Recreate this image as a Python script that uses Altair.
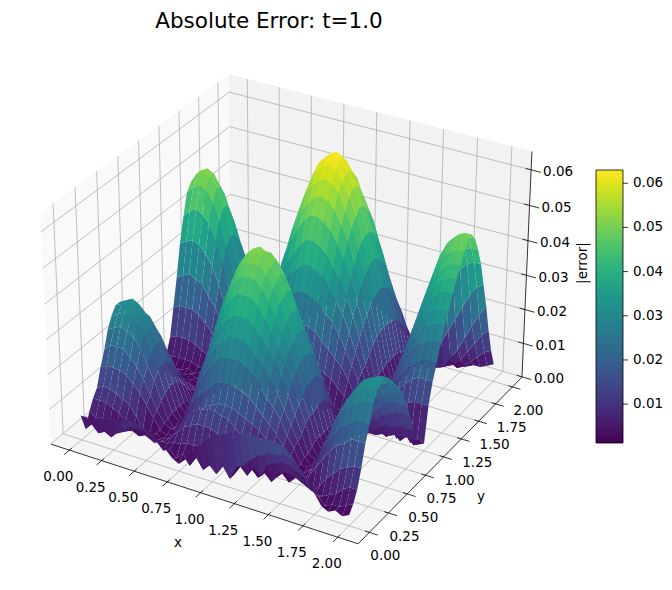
import numpy as np
import altair as alt

# |error| * 1000, rows are y = 0..2, columns are x = 0..2 (step 0.05)
Z_ROWS = [
[7,7,7,8,8,9,9,10,10,10,9,8,7,5,3,2,4,7,9,11,13,14,15,16,16,17,17,17,17,17,17,16,14,11,8,6,3,2,3,2,3],
[2,4,2,3,2,4,5,7,7,7,6,5,3,4,2,4,1,4,1,3,1,4,1,5,6,8,10,11,12,12,13,12,11,9,6,4,2,3,3,4,5],
[6,5,5,3,2,3,4,5,5,4,3,4,4,5,5,6,6,6,5,4,4,3,1,4,2,5,3,7,8,9,9,8,7,6,3,3,4,5,7,8,8],
[9,9,9,8,7,5,3,2,3,2,3,3,5,7,9,10,11,11,11,10,9,8,6,4,3,1,3,1,4,5,5,4,3,2,4,7,9,11,12,13,13],
[11,12,12,11,10,9,6,3,2,3,2,3,6,9,12,13,14,15,15,14,14,12,10,8,5,3,3,1,3,1,3,3,5,8,11,14,16,17,19,19,19],
[16,17,17,17,16,14,12,9,6,3,2,3,5,8,10,12,14,15,16,16,16,15,14,13,12,10,8,6,4,2,2,3,7,11,14,17,20,21,23,23,23],
[20,22,22,22,20,18,15,11,7,4,3,3,7,11,14,16,18,20,21,21,21,20,19,17,15,13,11,8,5,3,2,4,8,13,17,21,24,26,27,28,28],
[25,26,27,26,25,22,18,14,9,4,2,4,9,14,18,21,24,26,27,27,27,26,24,22,19,17,14,10,7,3,3,4,9,14,19,23,26,29,30,31,31],
[28,29,30,29,28,25,20,16,10,5,3,5,11,16,21,25,28,30,32,32,32,30,28,26,23,20,16,12,8,4,2,4,10,15,20,24,27,30,31,32,32],
[30,31,32,31,29,26,22,17,11,5,2,6,13,19,24,29,33,35,37,37,37,35,33,30,27,23,19,14,9,4,3,4,10,15,20,24,27,30,31,32,32],
[30,31,32,31,29,26,22,17,11,5,3,7,14,21,27,33,37,40,42,42,42,40,37,34,30,26,21,16,11,5,2,4,9,14,19,23,26,29,30,31,31],
[27,28,29,28,27,24,20,15,10,5,2,7,16,23,30,36,40,44,46,46,46,44,41,37,33,29,23,17,12,6,3,4,9,13,18,21,25,27,28,29,29],
[23,25,25,25,23,21,17,13,9,4,3,8,17,25,32,38,43,47,49,49,49,47,44,40,35,30,25,19,12,6,2,4,8,12,16,20,23,25,26,27,27],
[19,20,20,20,18,16,14,10,7,3,2,8,17,26,33,40,45,48,51,51,51,48,45,41,37,32,26,19,13,6,3,4,8,12,15,19,21,23,25,25,25],
[14,15,15,15,14,12,10,8,5,2,2,8,18,26,34,41,46,49,51,52,51,49,46,42,37,32,26,20,13,6,2,3,7,10,13,16,19,20,22,22,22],
[10,11,11,11,10,9,7,6,4,2,3,8,17,25,33,39,44,48,50,50,50,48,45,41,36,31,25,19,13,6,2,3,5,8,11,13,15,17,18,18,18],
[7,7,7,7,6,6,5,4,2,2,2,7,15,23,29,35,40,43,45,45,45,43,40,36,32,28,23,17,11,5,3,2,4,6,9,10,12,13,14,14,14],
[4,4,4,4,4,3,3,2,3,2,2,6,13,19,24,29,33,35,37,37,37,35,33,30,27,23,19,14,9,4,2,2,3,4,5,7,8,8,9,9,9],
[3,3,3,2,3,2,3,2,3,2,2,4,9,14,18,21,24,26,27,27,27,26,24,22,19,17,14,10,7,3,2,2,2,3,3,4,4,5,5,5,5],
[2,3,1,3,2,3,2,3,1,2,2,3,5,8,10,12,14,15,16,16,16,15,14,13,12,10,8,6,4,2,2,1,3,2,3,2,4,2,4,2,3],
[2,3,2,2,3,2,3,2,2,3,2,2,3,2,4,3,5,4,5,5,5,4,5,3,4,3,4,2,3,2,2,3,1,3,1,4,1,4,1,3,2],
[4,4,4,4,4,3,3,2,2,2,2,2,2,3,4,4,5,5,6,6,6,6,6,5,5,4,3,3,2,2,3,2,4,6,7,9,10,11,12,12,12],
[8,9,9,9,8,7,6,5,3,2,2,2,4,6,8,10,11,12,13,14,14,14,13,12,11,10,8,6,4,2,2,3,5,8,11,13,15,17,18,18,18],
[16,17,17,17,16,14,12,9,6,3,3,3,7,10,13,16,18,20,21,22,22,22,21,19,17,15,13,10,6,3,2,3,7,10,13,16,19,20,22,22,22],
[24,25,26,25,24,21,18,14,9,4,2,4,9,14,18,21,24,27,29,30,30,29,28,26,24,21,17,13,9,4,3,4,8,12,16,20,23,25,26,27,27],
[33,34,35,34,32,29,24,18,12,6,3,5,11,17,22,26,30,33,35,37,37,36,35,32,29,26,21,16,11,5,2,4,9,14,19,23,26,29,30,31,31],
[40,42,43,42,40,35,29,22,15,7,2,6,13,19,25,31,35,38,41,43,43,42,40,37,34,30,25,19,12,6,2,5,10,16,21,25,29,32,33,34,34],
[46,48,49,48,45,40,33,25,17,8,3,7,15,22,29,35,40,44,47,49,49,48,46,43,39,34,28,22,14,7,3,5,11,17,23,28,32,35,37,38,38],
[48,51,52,51,48,43,35,27,18,8,2,8,16,24,32,38,44,48,51,53,54,53,51,47,43,37,31,24,16,8,2,6,12,19,25,30,35,38,40,41,41],
[48,51,52,51,48,43,35,27,18,8,3,8,17,26,34,41,47,52,55,57,58,57,55,50,46,40,33,26,17,8,2,6,13,20,27,33,37,41,43,44,44],
[46,48,49,48,45,40,33,25,17,8,2,9,18,27,36,43,49,54,58,60,61,60,57,53,48,42,35,27,18,9,3,7,14,22,29,35,40,44,46,47,47],
[41,43,44,43,40,36,30,23,15,7,2,9,19,28,37,45,51,56,60,62,63,62,59,55,50,43,36,28,18,9,2,7,15,23,31,37,43,47,49,50,50],
[35,37,38,37,35,31,26,20,13,6,3,9,19,28,37,45,51,56,60,62,63,62,59,55,50,43,36,28,18,9,2,7,15,23,31,37,43,47,49,50,50],
[30,31,32,31,29,26,22,17,11,5,2,9,18,27,36,43,49,54,58,60,61,60,57,53,48,42,35,27,18,9,3,7,14,22,29,36,41,45,47,48,48],
[24,25,26,25,24,21,18,14,9,4,3,8,17,26,34,41,47,52,55,57,58,57,55,50,46,40,33,26,17,8,2,6,13,20,27,33,37,41,43,44,44],
[19,20,20,20,18,16,14,10,7,3,2,8,16,24,32,38,44,48,51,53,54,53,51,47,43,37,31,24,16,8,2,5,12,18,24,29,33,36,38,39,39],
[14,15,15,15,14,12,10,8,5,2,2,7,14,22,28,34,39,43,46,48,48,47,45,42,38,33,27,21,14,7,2,4,7,9,12,16,20,24,28,31,32],
[10,11,11,11,10,9,7,6,4,2,2,6,12,18,24,29,33,36,39,41,41,40,39,36,32,28,23,18,12,6,2,3,2,3,4,7,10,14,18,22,25],
[7,7,7,7,6,6,5,4,2,2,2,5,10,15,19,23,27,29,31,33,33,32,31,29,26,23,19,15,10,5,3,2,3,2,3,4,6,9,12,15,17],
[4,4,4,4,4,3,3,2,2,2,2,3,7,11,14,17,19,21,23,24,24,24,23,21,19,17,14,11,7,3,4,4,3,2,3,2,3,5,7,9,10],
[2,2,2,3,2,2,2,2,2,2,2,2,4,6,8,9,11,12,12,13,13,13,12,11,10,9,7,6,4,2,8,7,6,5,4,3,2,3,3,4,5],
]
X_TICKS = [0.0, 0.25, 0.5, 0.75, 1.0, 1.25, 1.5, 1.75, 2.0]
Y_TICKS = [0.0, 0.25, 0.5, 0.75, 1.0, 1.25, 1.5, 1.75, 2.0]
Z_TICKS = [0.0, 0.01, 0.02, 0.03, 0.04, 0.05, 0.06]
CB_TICKS = [0.01, 0.02, 0.03, 0.04, 0.05, 0.06]
CB_MIN, CB_MAX = 0.0012, 0.063
TITLE = "Absolute Error: t=1.0"

XL, XH = -0.145, 2.145
YL, YH = -0.145, 2.145
ZL, ZH = -0.0001, 0.0651
FONT = "DejaVu Sans"
LABEL_SIZE = 13.5

# matplotlib-style 3D camera
aspect = np.array([4.0, 4.0, 3.0]) * 1.8294640721620434 / np.sqrt(41.0)
elev, azim = np.deg2rad(30), np.deg2rad(-60)
w = np.array([np.cos(elev) * np.cos(azim), np.cos(elev) * np.sin(azim), np.sin(elev)])
eye = aspect / 2 + 10 * w
u = np.cross([0, 0, 1.0], w)
u /= np.linalg.norm(u)
v = np.cross(w, u)


def camera(x, y, z):
    p = np.array([(x - XL) / (XH - XL), (y - YL) / (YH - YL), (z - ZL) / (ZH - ZL)]) * aspect - eye
    d = -(p @ w)
    return (p @ u) / d, (p @ v) / d, d


# box corners against where they sit on the page
anchors = [((XH, YL, ZL), (358, 546)), ((XL, YL, ZL), (51, 443)), ((XH, YH, ZL), (522, 375)),
           ((XH, YH, ZH), (532, 152)), ((XL, YH, ZH), (229, 75)), ((XL, YL, ZH), (40, 213))]
nx = [camera(*a[0])[0] for a in anchors]
ny = [camera(*a[0])[1] for a in anchors]
ax_, bx_ = np.polyfit(nx, [a[1][0] - 8 for a in anchors], 1)
ay_, by_ = np.polyfit(ny, [a[1][1] - 8 for a in anchors], 1)


def P(x, y, z):
    a, b, _ = camera(x, y, z)
    return [float(ax_ * a + bx_), float(ay_ * b + by_)]


def poly(pts, **props):
    return {"type": "Feature", "properties": props,
            "geometry": {"type": "Polygon", "coordinates": [pts + [pts[0]]]}}


def line(pts):
    return {"type": "Feature", "properties": {},
            "geometry": {"type": "LineString", "coordinates": pts}}


def geo(features, **mark):
    return alt.Chart(alt.Data(values=features)).mark_geoshape(**mark).project(type="identity", scale=1, translate=[0, 0])


# panes
pane_x = [poly([P(XL, YL, ZL), P(XL, YH, ZL), P(XL, YH, ZH), P(XL, YL, ZH)])]
pane_y = [poly([P(XL, YH, ZL), P(XH, YH, ZL), P(XH, YH, ZH), P(XL, YH, ZH)])]
pane_z = [poly([P(XL, YL, ZL), P(XH, YL, ZL), P(XH, YH, ZL), P(XL, YH, ZL)])]

# grid
grid = []
for t in X_TICKS:
    grid.append(line([P(t, YL, ZL), P(t, YH, ZL), P(t, YH, ZH)]))
for t in Y_TICKS:
    grid.append(line([P(XH, t, ZL), P(XL, t, ZL), P(XL, t, ZH)]))
for t in Z_TICKS:
    grid.append(line([P(XL, YL, t), P(XL, YH, t), P(XH, YH, t)]))

# axis lines and ticks
axes = [line([P(XL, YL, ZL), P(XH, YL, ZL)]), line([P(XH, YL, ZL), P(XH, YH, ZL)]),
        line([P(XH, YH, ZL), P(XH, YH, ZH)])]
texts = []
for t in X_TICKS:
    axes.append(line([P(t, YL + 0.03, ZL), P(t, YL - 0.06, ZL)]))
    a = P(t, YL, ZL)
    texts.append({"lon": a[0] - 11, "lat": a[1] + 27, "t": f"{t:.2f}"})
for t in Y_TICKS:
    axes.append(line([P(XH - 0.03, t, ZL), P(XH + 0.06, t, ZL)]))
    a = P(XH, t, ZL)
    texts.append({"lon": a[0] + 16, "lat": a[1] + 24, "t": f"{t:.2f}"})
for t in Z_TICKS:
    axes.append(line([P(XH - 0.04, YH, t), P(XH + 0.07, YH, t)]))
    a = P(XH, YH, t)
    texts.append({"lon": a[0] + 27, "lat": a[1] + 2.5, "t": f"{t:.2f}"})

# surface, far quads first
Z = np.array(Z_ROWS) / 1000.0
n = Z.shape[0]
gx = np.linspace(0, 2, Z.shape[1])
gy = np.linspace(0, 2, n)
quads = []
for j in range(n - 1):
    for i in range(Z.shape[1] - 1):
        cor = [(i, j), (i + 1, j), (i + 1, j + 1), (i, j + 1)]
        depth = np.mean([camera(gx[a], gy[b], Z[b, a])[2] for a, b in cor])
        e = float(np.mean([Z[b, a] for a, b in cor]))
        quads.append((depth, poly([P(gx[a], gy[b], Z[b, a]) for a, b in cor], e=e)))
quads.sort(key=lambda q: -q[0])
surface_features = [q[1] for q in quads]

surface = geo(surface_features, strokeWidth=0).encode(
    color=alt.Color(
        "properties.e:Q",
        scale=alt.Scale(scheme="viridis", domain=[CB_MIN, CB_MAX], clamp=True),
        legend=alt.Legend(
            orient="none", legendX=596 - 8, legendY=170 - 8, direction="vertical",
            gradientLength=273, gradientThickness=27, title=None, values=CB_TICKS,
            format=".2f", labelOffset=10, gradientStrokeColor="black", gradientStrokeWidth=0.8,
            labelFont=FONT, labelFontSize=LABEL_SIZE, labelColor="black", labelOverlap=False,
        ),
    )
)

# colour bar ticks
cb_ticks = []
for t in CB_TICKS:
    yy = 443 - 8 - (t - CB_MIN) / (CB_MAX - CB_MIN) * 273
    cb_ticks.append(line([[623 - 8, yy], [628 - 8, yy]]))


def text_layer(rows, **mark):
    return alt.Chart(alt.Data(values=rows)).mark_text(font=FONT, color="black", **mark).encode(
        longitude="lon:Q", latitude="lat:Q", text="t:N"
    ).project(type="identity", scale=1, translate=[0, 0])


chart = alt.layer(
    geo(pane_x, fill="#f9f9f9", strokeWidth=0),
    geo(pane_y, fill="#f2f2f2", strokeWidth=0),
    geo(pane_z, fill="#f5f5f5", strokeWidth=0),
    geo(grid, filled=False, stroke="#b0b0b0", strokeWidth=0.8),
    geo(axes + cb_ticks, filled=False, stroke="black", strokeWidth=0.8),
    surface,
    text_layer(texts, fontSize=LABEL_SIZE),
    text_layer([{"lon": 178 - 8, "lat": 543 - 8, "t": "x"}, {"lon": 481 - 8, "lat": 497 - 8, "t": "y"}], fontSize=LABEL_SIZE),
    text_layer([{"lon": 583 - 8, "lat": 263 - 8, "t": "|error|"}], fontSize=LABEL_SIZE, angle=270),
    text_layer([{"lon": 269 - 8, "lat": 22 - 8, "t": TITLE}], fontSize=21.5),
).properties(width=656, height=574, padding=0, autosize=alt.AutoSizeParams(type="none")).configure_view(stroke=None)

chart.save("out.html", embed_options={"renderer": "svg", "actions": False})
